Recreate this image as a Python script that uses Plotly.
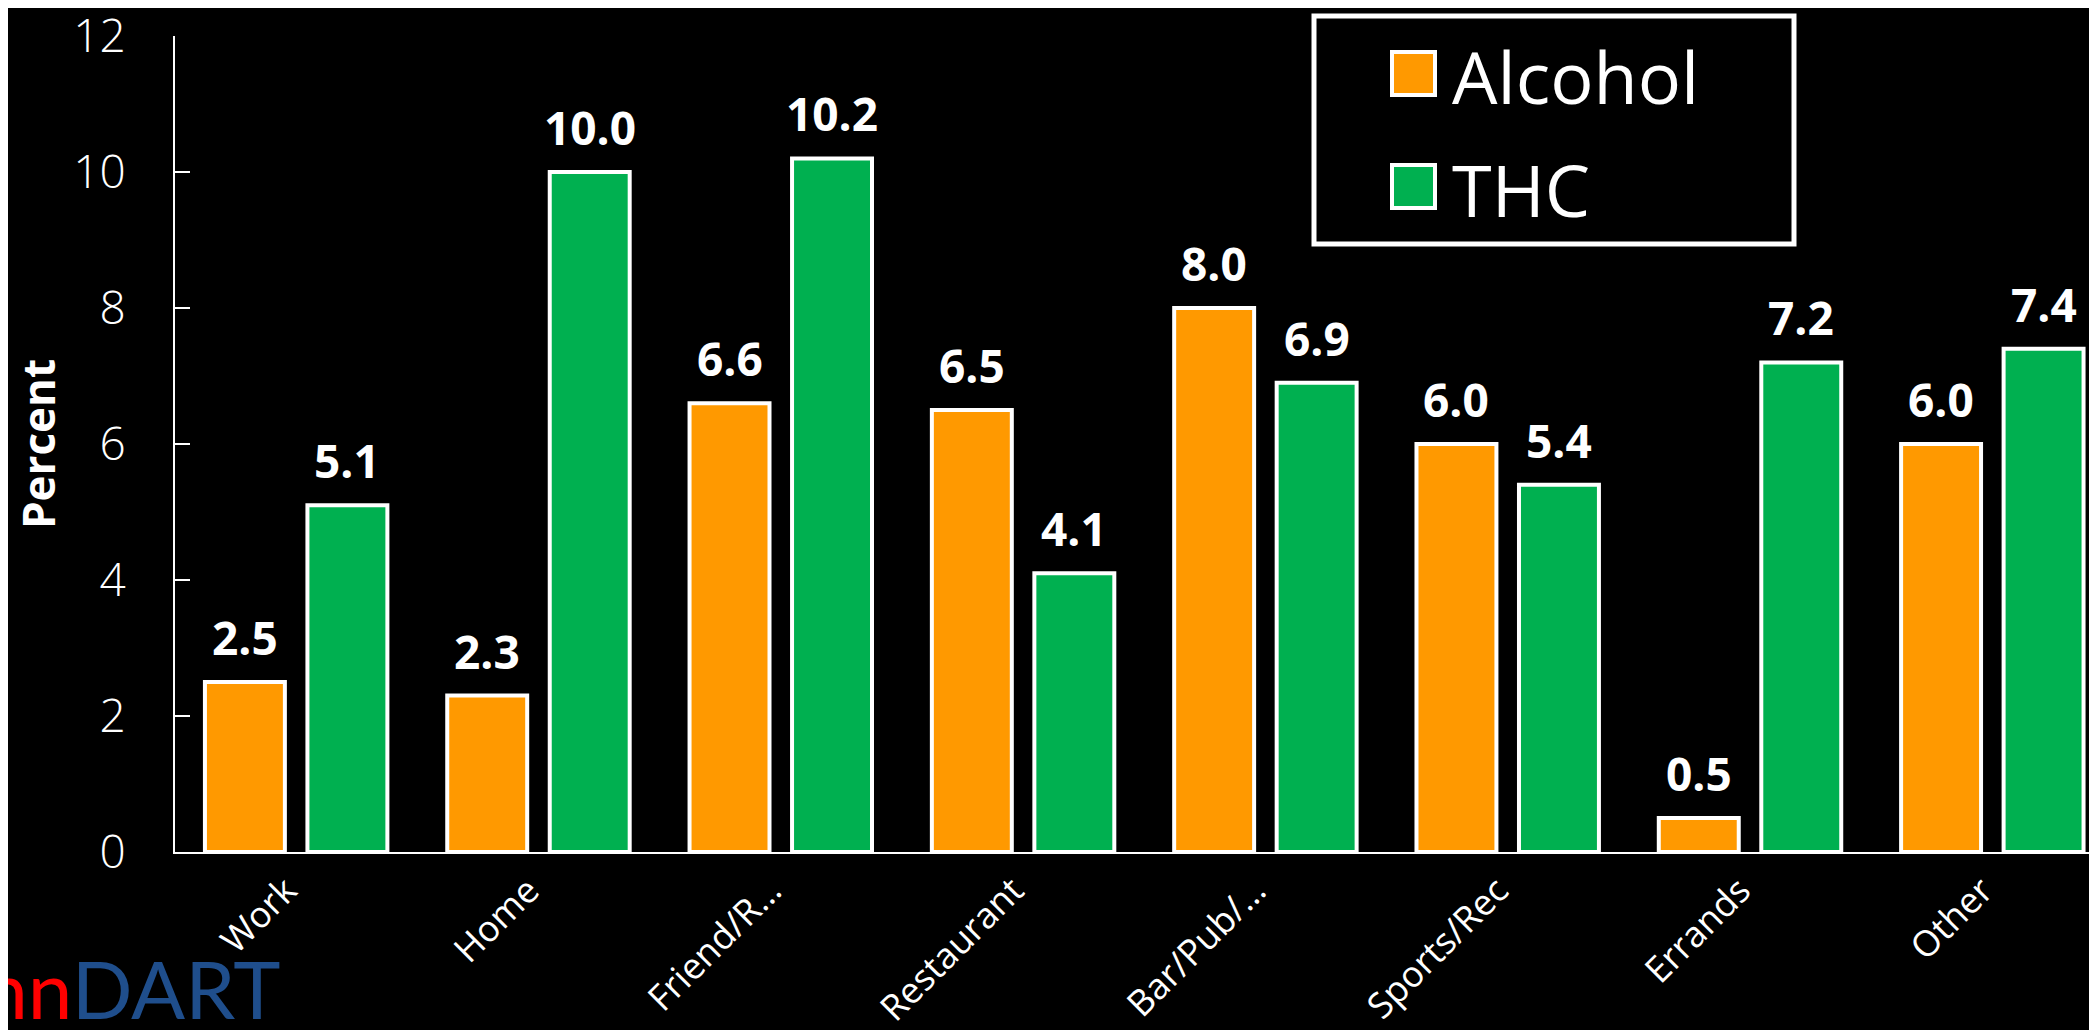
import plotly.graph_objects as go

# categories and values
places = ["Work", "Home", "Friend/R…", "Restaurant", "Bar/Pub/…", "Sports/Rec", "Errands", "Other"]
alcohol = [2.5, 2.3, 6.6, 6.5, 8.0, 6.0, 0.5, 6.0]
thc = [5.1, 10.0, 10.2, 4.1, 6.9, 5.4, 7.2, 7.4]
series_names = ["Alcohol", "THC"]
series_colors = ["#FF9900", "#00B050"]

W, H = 2097, 1030
L, R, T, B = 167, 0, 28, 186
font = "Open Sans"
BARGAP = 0.154
xr = [-0.5, 7.465]

fig = go.Figure()
for name, vals, col in zip(series_names, [alcohol, thc], series_colors):
    fig.add_trace(go.Bar(
        x=places, y=vals, name=name,
        marker=dict(color=col, line=dict(color="white", width=4)),
        showlegend=False,
    ))

pw, ph = W - L - R, H - T - B
px = lambda p: (p - L) / pw
py = lambda q: (H - B - q) / ph

# value labels above each bar (annotations so they can sit a bit higher)
slot = pw / (xr[1] - xr[0]) * (1 - BARGAP) / 2
annotations = []
for i, vals in enumerate([alcohol, thc]):
    for cat, v in zip(places, vals):
        annotations.append(dict(
            x=cat, y=v, text=f"{v:.1f}", showarrow=False,
            xanchor="center", yanchor="bottom", yshift=12, xshift=(i - 0.5) * slot,
            font=dict(family=font, size=46, color="white", weight="bold")))

# hand-built legend so the swatches can be large like the original
shapes = [dict(type="rect", xref="paper", yref="paper",
               x0=px(1306), x1=px(1786), y0=py(236), y1=py(8),
               line=dict(color="white", width=5), fillcolor="black")]
for i, (name, col) in enumerate(zip(series_names, series_colors)):
    top = 44 + i * 113
    shapes.append(dict(type="rect", xref="paper", yref="paper",
                       x0=px(1384), x1=px(1427), y0=py(top + 43), y1=py(top),
                       line=dict(color="white", width=4), fillcolor=col))
    annotations.append(dict(text=name, xref="paper", yref="paper",
                            x=px(1442), y=py(top + 24), xanchor="left", yanchor="middle",
                            showarrow=False, font=dict(family=font, size=72, color="white")))

# logo, partly off the left edge as in the original slide
annotations.append(dict(
    text="<span style='color:#FF0000'>Penn</span><span style='color:#1F4E8C'>DART</span>",
    xref="paper", yref="paper", x=px(275), y=py(1030), xanchor="right", yanchor="bottom",
    showarrow=False, font=dict(family="Lato", size=80)))

fig.update_layout(
    width=W, height=H,
    margin=dict(l=L, r=R, t=T, b=B, autoexpand=False),
    paper_bgcolor="black", plot_bgcolor="black",
    barmode="group", bargap=BARGAP, bargroupgap=0.22,
    font=dict(family=font, color="white"),
    shapes=shapes, annotations=annotations,
)
fig.update_xaxes(
    range=xr, showline=True, linecolor="white", linewidth=2,
    showgrid=False, ticks="", tickangle=-45,
    ticklabelshift=-10, ticklabelstandoff=1,
    tickfont=dict(family=font, size=36, color="white"),
)
fig.update_yaxes(
    range=[0, 12.001], tickvals=[0, 2, 4, 6, 8, 10, 12], showline=True, linecolor="white", linewidth=2,
    showgrid=False, zeroline=False, ticks="inside", ticklen=15, tickwidth=2, tickcolor="white",
    ticklabelstandoff=38, ticklabeloverflow="allow",
    tickfont=dict(family=font, size=46, color="white", weight=300),
    title=dict(text="Percent", standoff=18,
               font=dict(family=font, size=44, color="white", weight="bold")),
)

fig.write_html("out.html")
